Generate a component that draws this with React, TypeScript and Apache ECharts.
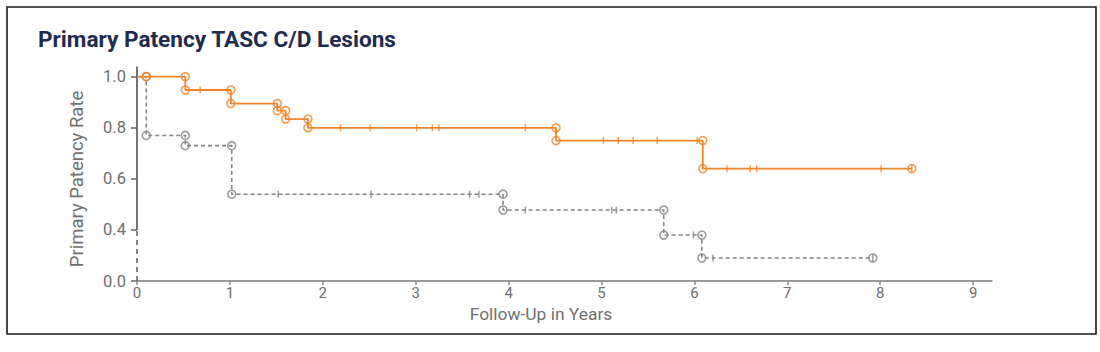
import React, { useEffect, useRef } from "react";
import * as echarts from "echarts";

// ---------- data ----------
const titleText = "Primary Patency TASC C/D Lesions";
const xAxisTitle = "Follow-Up in Years";
const yAxisTitle = "Primary Patency Rate";

const xTickValues = [0, 1, 2, 3, 4, 5, 6, 7, 8, 9];
const yTickValues = [0.0, 0.4, 0.6, 0.8, 1.0];
const xAxisEnd = 9.2;
const yAxisTop = 1.04;
const yBreakValue = 0.4; // below this value the axis is compressed

// Orange (solid) curve: event times and survival after each event
const orangeTimes = [0.1, 0.52, 1.01, 1.51, 1.6, 1.84, 4.51, 6.09];
const orangeValues = [1.0, 0.948, 0.895, 0.867, 0.834, 0.8, 0.75, 0.64];
const orangeEnd = 8.34;
const orangeCensored = [0.68, 2.19, 2.51, 3.01, 3.18, 3.25, 4.18, 5.02, 5.18, 5.34, 5.6, 6.03, 6.35, 6.6, 6.67, 8.01, 8.34];

// Gray (dashed) curve
const grayTimes = [0.1, 0.52, 1.02, 3.94, 5.67, 6.08];
const grayValues = [0.77, 0.73, 0.54, 0.478, 0.36, 0.18];
const grayEnd = 7.92;
const grayCensored = [1.52, 2.52, 3.58, 3.68, 4.18, 5.11, 5.16, 5.99, 6.2, 7.92];

// ---------- helpers ----------
const toAxis = (v: number) => (v <= yBreakValue ? v / 2 : v - yBreakValue / 2);
const fromAxis = (p: number) => (p <= yBreakValue / 2 ? p * 2 : p + yBreakValue / 2);

const stepLine = (times: number[], values: number[], end: number) => {
  const pts: number[][] = [[0, toAxis(1.0)]];
  times.forEach((t, i) => pts.push([t, toAxis(values[i])]));
  pts.push([end, toAxis(values[values.length - 1])]);
  return pts;
};
const eventCircles = (times: number[], values: number[], end: number) => {
  const pts: number[][] = [];
  times.forEach((t, i) => {
    const prev = i === 0 ? 1.0 : values[i - 1];
    pts.push([t, toAxis(prev)]);
    if (prev !== values[i]) pts.push([t, toAxis(values[i])]);
  });
  pts.push([end, toAxis(values[values.length - 1])]);
  return pts;
};
const survivalAt = (times: number[], values: number[], t: number) => {
  let v = 1.0;
  times.forEach((ti, i) => {
    if (ti <= t) v = values[i];
  });
  return v;
};
const censorMarks = (times: number[], values: number[], cens: number[]) =>
  cens.map((t) => [t, toAxis(survivalAt(times, values, t))]);

const ORANGE = "#f0852a";
const GRAY = "#88837f";
const FONT = "Roboto, 'Noto Sans', sans-serif";

export default function App() {
  const ref = useRef<HTMLDivElement>(null);
  useEffect(() => {
    if (!ref.current) return;
    const chart = echarts.init(ref.current, undefined, { renderer: "svg" });
    const circleStyle = (c: string) => ({ color: "rgba(255,255,255,0)", borderColor: c, borderWidth: 1.6 });
    chart.setOption({
      animation: false,
      backgroundColor: "#ffffff",
      textStyle: { fontFamily: FONT },
      grid: { left: 137, right: 108.3, top: 66.5, bottom: 71, containLabel: false, outerBoundsMode: "none" },
      xAxis: {
        type: "value",
        min: 0,
        max: xAxisEnd,
        axisLine: { show: true, lineStyle: { color: "#9a9a9a", width: 2 } },
        axisTick: { show: true, customValues: xTickValues, length: 4, lineStyle: { color: "#8a8a8a", width: 1.5 } },
        axisLabel: { customValues: xTickValues, color: "#6e6e6e", fontSize: 15, margin: 4, fontFamily: FONT },
        splitLine: { show: false },
      },
      yAxis: {
        type: "value",
        min: 0,
        max: toAxis(yAxisTop),
        axisLine: { show: false },
        axisTick: { show: true, customValues: yTickValues.map(toAxis), length: 6, lineStyle: { color: "#666", width: 1.5 } },
        axisLabel: {
          customValues: yTickValues.map(toAxis),
          formatter: (val: number) => fromAxis(val).toFixed(1),
          color: "#6e6e6e",
          fontSize: 16.5,
          margin: 11,
          fontFamily: FONT,
        },
        splitLine: { show: false },
      },
      graphic: [
        { type: "rect", shape: { x: 7, y: 7, width: 1089, height: 327 }, style: { fill: "none", stroke: "#1a1a1a", lineWidth: 1.6 }, silent: true },
        { type: "text", x: 38, y: 39, style: { text: titleText, font: `bold 22.6px ${FONT}`, fill: "#1e2c4f", align: "left", verticalAlign: "middle" } },
        { type: "text", x: 541, y: 313.5, style: { text: xAxisTitle, font: `17.4px ${FONT}`, fill: "#707070", align: "center", verticalAlign: "middle" } },
        { type: "text", x: 76.5, y: 179, rotation: Math.PI / 2, style: { text: yAxisTitle, font: `18.5px ${FONT}`, fill: "#707070", align: "center", verticalAlign: "middle" } },
      ],
      series: [
        {
          type: "line", silent: true, symbol: "none", z: 1,
          data: [[0, toAxis(0)], [0, toAxis(yBreakValue)]],
          lineStyle: { color: "#666", width: 1.6, type: [5, 4] },
        },
        {
          type: "line", silent: true, symbol: "none", z: 1,
          data: [[0, toAxis(yBreakValue)], [0, toAxis(yAxisTop)]],
          lineStyle: { color: "#666", width: 1.8 },
        },
        {
          type: "line", silent: true, symbol: "none", step: "end", z: 2,
          data: stepLine(grayTimes, grayValues, grayEnd),
          lineStyle: { color: GRAY, width: 1.6, type: [4, 3] },
        },
        {
          type: "scatter", silent: true, symbol: "rect", symbolSize: [1.5, 7], z: 3,
          data: censorMarks(grayTimes, grayValues, grayCensored),
          itemStyle: { color: GRAY },
        },
        {
          type: "scatter", silent: true, symbol: "circle", symbolSize: 8, z: 4,
          data: eventCircles(grayTimes, grayValues, grayEnd),
          itemStyle: circleStyle(GRAY),
        },
        {
          type: "line", silent: true, symbol: "none", step: "end", z: 5,
          data: stepLine(orangeTimes, orangeValues, orangeEnd),
          lineStyle: { color: ORANGE, width: 1.8 },
        },
        {
          type: "scatter", silent: true, symbol: "rect", symbolSize: [1.5, 7], z: 6,
          data: censorMarks(orangeTimes, orangeValues, orangeCensored),
          itemStyle: { color: ORANGE },
        },
        {
          type: "scatter", silent: true, symbol: "circle", symbolSize: 8, z: 7,
          data: eventCircles(orangeTimes, orangeValues, orangeEnd),
          itemStyle: circleStyle(ORANGE),
        },
      ],
    });
    return () => chart.dispose();
  }, []);
  return (
    <div
      ref={ref}
      style={{ position: "fixed", left: 0, top: 0, width: 1100, height: 352, background: "#fff" }}
    />
  );
}
